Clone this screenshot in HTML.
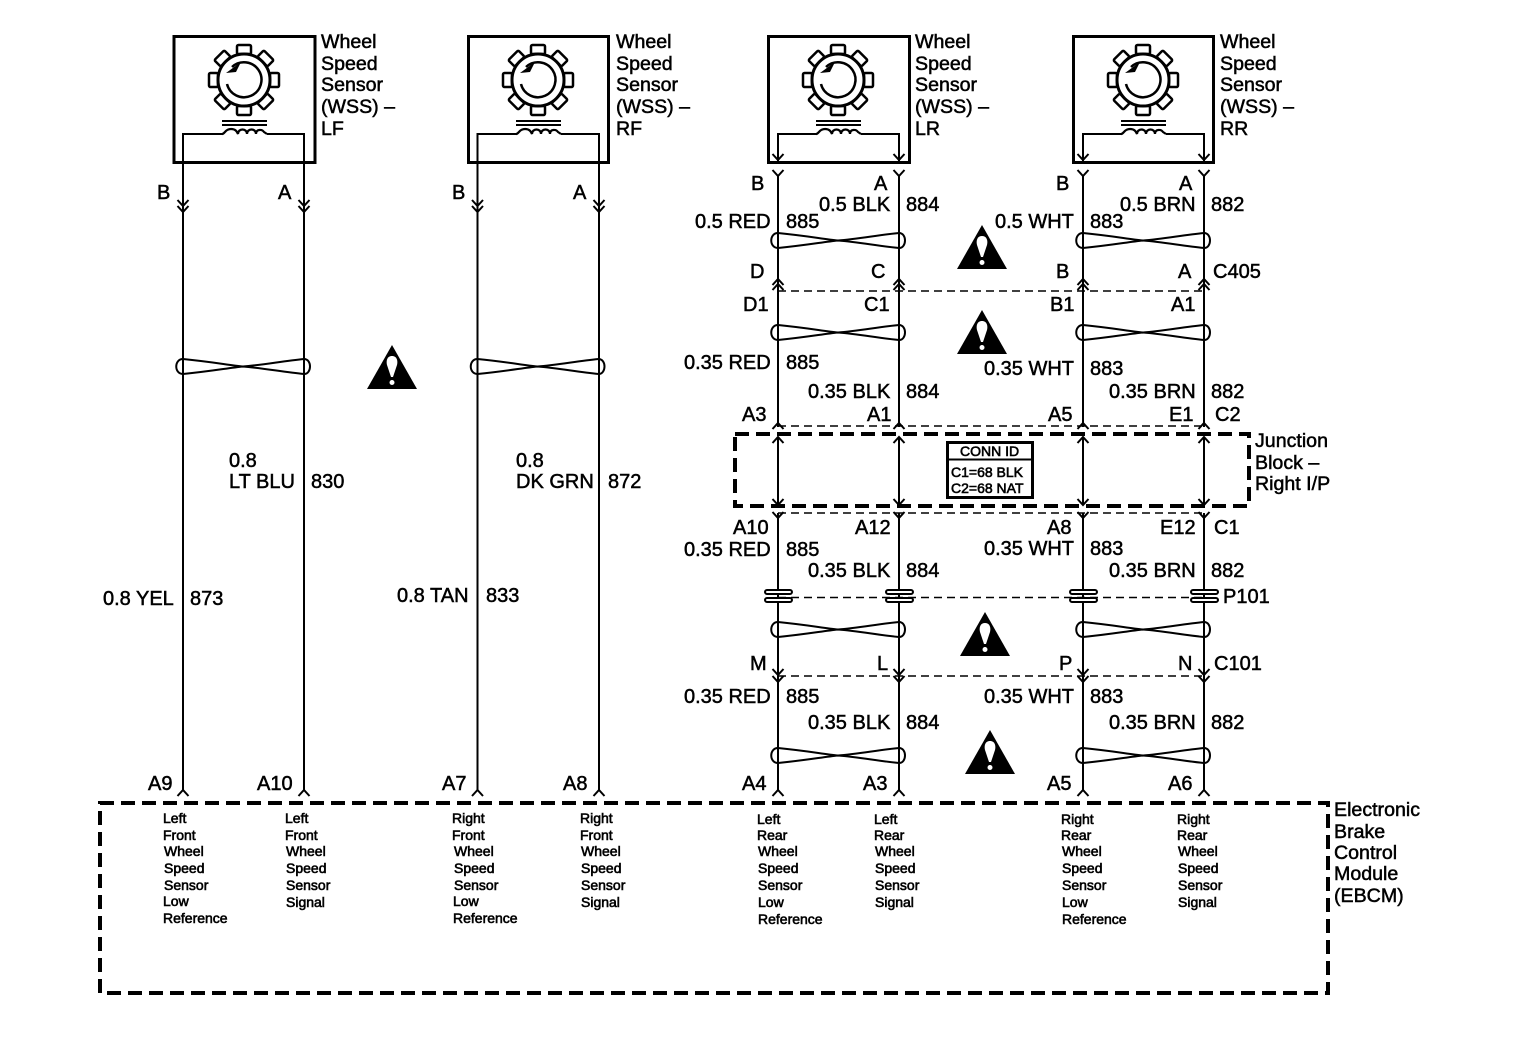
<!DOCTYPE html>
<html><head><meta charset="utf-8"><style>
html,body{margin:0;padding:0;background:#fff}
svg{display:block}
text{font-family:"Liberation Sans",sans-serif;font-size:20px;fill:#000;stroke:#000;stroke-width:.5}
g.w text{font-size:19.6px}
text.s{font-size:14px;stroke-width:.6}
.l{fill:none;stroke:#000;stroke-width:2}
.d{fill:none;stroke:#000;stroke-width:1.6;stroke-dasharray:8 5}
.h{fill:none;stroke:#000;stroke-width:4;stroke-dasharray:14 7}
</style></head><body>
<svg width="1520" height="1054" viewBox="0 0 1520 1054" xmlns="http://www.w3.org/2000/svg">
<defs>
<g id="gear" fill="none" stroke="#000">
<g stroke-width="2.5" fill="#fff">
<rect x="-7" y="-35" width="14" height="9" rx="1.5"/>
<rect x="-7" y="26" width="14" height="9" rx="1.5"/>
<rect x="-35" y="-7" width="9" height="14" rx="1.5"/>
<rect x="26" y="-7" width="9" height="14" rx="1.5"/>
<rect x="-7" y="-35" width="14" height="9" rx="1.5" transform="rotate(45)"/>
<rect x="-7" y="-35" width="14" height="9" rx="1.5" transform="rotate(135)"/>
<rect x="-7" y="-35" width="14" height="9" rx="1.5" transform="rotate(225)"/>
<rect x="-7" y="-35" width="14" height="9" rx="1.5" transform="rotate(315)"/>
</g>
<circle cx="0" cy="0" r="26" stroke-width="3" fill="#fff"/>
<path d="M-12 -13 A17.500 17.500 0 1 1 -17 4" stroke-width="2.5"/>
<path d="M-18 -7 L-3 -18 L-8 -8 Z" fill="#000" stroke="none"/>
</g>
<g id="coil" fill="none" stroke="#000" stroke-width="2">
<path d="M-22 41 H23 M-22 45 H23"/>
<path d="M-22 54 C-19 54 -19 49 -13 49 C-8 49 -7 52 -6 54 C-6 48 3 48 3 54 C3 48 12 48 12 54 C12 49 18 49 20 52 L23 54" stroke-width="2.2"/>
</g>
<path id="twist" fill="none" stroke="#000" stroke-width="2" d="M0 0 C30 3 45 6 60 7.500 C80 9 100 13 121 15 C129 15 129 0 121 0 C100 2 80 6 60 7.500 C45 9 30 12 0 15 C-9 15 -9 0 0 0 Z"/>
<g id="tri"><path d="M26 0 L51 44 H1 Z" fill="#000"/><path d="M26 11 C21 11 20 16 21 20 L25 32 H27 L31 20 C32 16 31 11 26 11 Z" fill="#fff"/><circle cx="26" cy="37.500" r="2.500" fill="#fff"/></g>
<path id="dn" class="l" d="M-5.500 -6 L0 0 L5.500 -6"/>
<path id="up" class="l" d="M-5.500 6 L0 0 L5.500 6"/>
<g id="pin" fill="#fff" stroke="#000" stroke-width="2"><rect x="-13" y="-7" width="27" height="4" rx="2"/><rect x="-13" y="1" width="27" height="4" rx="2"/></g>
</defs>

<!-- sensor boxes -->
<g fill="none" stroke="#000" stroke-width="3">
<rect x="174" y="36.500" width="141" height="126"/>
<rect x="468.500" y="36.500" width="140" height="126"/>
<rect x="768.500" y="36.500" width="141" height="126"/>
<rect x="1073.500" y="36.500" width="140" height="126"/>
</g>
<use href="#gear" x="244" y="80"/><use href="#coil" x="244" y="80"/>
<use href="#gear" x="538" y="80"/><use href="#coil" x="538" y="80"/>
<use href="#gear" x="838" y="80"/><use href="#coil" x="838" y="80"/>
<use href="#gear" x="1143" y="80"/><use href="#coil" x="1143" y="80"/>

<!-- wires in boxes and down -->
<path class="l" d="M183 790 V134 H222 M267 134 H304 V790"/>
<path class="l" d="M477.500 790 V134 H517 M561 134 H599 V790"/>
<path class="l" d="M778 163 V134 H817 M861 134 H899 V163"/>
<path class="l" d="M1083 163 V134 H1122 M1166 134 H1204 V163"/>
<!-- arrows in LR RR boxes -->
<g>
<use href="#dn" x="778" y="160"/><use href="#dn" x="899" y="160"/><use href="#dn" x="1083" y="160"/><use href="#dn" x="1204" y="160"/>
<use href="#dn" x="778" y="176"/><use href="#dn" x="899" y="176"/><use href="#dn" x="1083" y="176"/><use href="#dn" x="1204" y="176"/>
</g>
<path class="l" d="M778 175 V427 M899 175 V427 M1083 175 V427 M1204 175 V427"/>
<path class="l" d="M778 437 V505 M899 437 V505 M1083 437 V505 M1204 437 V505"/>
<path class="l" d="M778 513 V790 M899 513 V790 M1083 513 V790 M1204 513 V790"/>

<!-- LF RF chevrons -->
<use href="#dn" x="183" y="206"/><use href="#dn" x="183" y="212"/>
<use href="#dn" x="304" y="206"/><use href="#dn" x="304" y="212"/>
<use href="#dn" x="477.500" y="206"/><use href="#dn" x="477.500" y="212"/>
<use href="#dn" x="599" y="206"/><use href="#dn" x="599" y="212"/>

<!-- twists -->
<use href="#twist" x="183" y="359"/>
<use href="#twist" x="477.500" y="359"/>
<use href="#twist" x="778" y="233"/><use href="#twist" x="1083" y="233"/>
<use href="#twist" x="778" y="325"/><use href="#twist" x="1083" y="325"/>
<use href="#twist" x="778" y="622"/><use href="#twist" x="1083" y="622"/>
<use href="#twist" x="778" y="748"/><use href="#twist" x="1083" y="748"/>

<!-- C405 -->
<path class="d" d="M778 291 H1204"/>
<g>
<use href="#up" x="778" y="279"/><use href="#up" x="778" y="284"/>
<use href="#up" x="899" y="279"/><use href="#up" x="899" y="284"/>
<use href="#up" x="1083" y="279"/><use href="#up" x="1083" y="284"/>
<use href="#up" x="1204" y="279"/><use href="#up" x="1204" y="284"/>
</g>

<!-- junction -->
<path class="d" d="M778 426 H1204 M778 513 H1204"/>
<use href="#up" x="778" y="423"/><use href="#up" x="899" y="423"/><use href="#up" x="1083" y="423"/><use href="#up" x="1204" y="423"/>
<use href="#up" x="778" y="437"/><use href="#up" x="899" y="437"/><use href="#up" x="1083" y="437"/><use href="#up" x="1204" y="437"/>
<use href="#dn" x="778" y="505"/><use href="#dn" x="899" y="505"/><use href="#dn" x="1083" y="505"/><use href="#dn" x="1204" y="505"/>
<use href="#dn" x="778" y="518"/><use href="#dn" x="899" y="518"/><use href="#dn" x="1083" y="518"/><use href="#dn" x="1204" y="518"/>
<rect class="h" x="735" y="434" width="514" height="72"/>
<rect x="947.500" y="442.500" width="85" height="55" fill="#fff" stroke="#000" stroke-width="3"/>
<path d="M947 459.500 H1032" stroke="#000" stroke-width="2"/>

<!-- P101 -->
<path class="d" d="M778 597.500 H1204"/>
<use href="#pin" x="778" y="597"/><use href="#pin" x="899" y="597"/><use href="#pin" x="1083" y="597"/><use href="#pin" x="1204" y="597"/>

<!-- C101 -->
<path class="d" d="M778 676 H1204"/>
<use href="#dn" x="778" y="675"/><use href="#dn" x="778" y="682"/>
<use href="#dn" x="899" y="675"/><use href="#dn" x="899" y="682"/>
<use href="#dn" x="1083" y="675"/><use href="#dn" x="1083" y="682"/>
<use href="#dn" x="1204" y="675"/><use href="#dn" x="1204" y="682"/>

<!-- EBCM -->
<use href="#up" x="183" y="790"/><use href="#up" x="304" y="790"/><use href="#up" x="477.500" y="790"/><use href="#up" x="599" y="790"/>
<use href="#up" x="778" y="790"/><use href="#up" x="899" y="790"/><use href="#up" x="1083" y="790"/><use href="#up" x="1204" y="790"/>
<rect class="h" x="100" y="803" width="1228" height="190"/>

<!-- warning triangles -->
<use href="#tri" x="366" y="345"/>
<use href="#tri" x="956" y="225"/>
<use href="#tri" x="956" y="310"/>
<use href="#tri" x="959" y="612"/>
<use href="#tri" x="964" y="730"/>

<!-- sensor labels -->
<g class="w">
<text x="321" y="48">Wheel</text><text x="321" y="70">Speed</text><text x="321" y="91">Sensor</text><text x="321" y="113">(WSS) –</text><text x="321" y="135">LF</text>
<text x="616" y="48">Wheel</text><text x="616" y="70">Speed</text><text x="616" y="91">Sensor</text><text x="616" y="113">(WSS) –</text><text x="616" y="135">RF</text>
<text x="915" y="48">Wheel</text><text x="915" y="70">Speed</text><text x="915" y="91">Sensor</text><text x="915" y="113">(WSS) –</text><text x="915" y="135">LR</text>
<text x="1220" y="48">Wheel</text><text x="1220" y="70">Speed</text><text x="1220" y="91">Sensor</text><text x="1220" y="113">(WSS) –</text><text x="1220" y="135">RR</text>
</g>

<text x="157" y="199">B</text><text x="278" y="199">A</text><text x="452" y="199">B</text><text x="573" y="199">A</text>
<text x="751" y="190">B</text><text x="874" y="190">A</text><text x="1056" y="190">B</text><text x="1179" y="190">A</text>

<text x="695" y="228">0.5 RED</text><text x="786" y="228">885</text><text x="819" y="211">0.5 BLK</text><text x="906" y="211">884</text>
<text x="995" y="228">0.5 WHT</text><text x="1090" y="228">883</text><text x="1120" y="211">0.5 BRN</text><text x="1211" y="211">882</text>

<text x="750" y="278">D</text><text x="871" y="278">C</text><text x="1056" y="278">B</text><text x="1178" y="278">A</text><text x="1213" y="278">C405</text>
<text x="743" y="311">D1</text><text x="864" y="311">C1</text><text x="1050" y="311">B1</text><text x="1171" y="311">A1</text>

<text x="684" y="369">0.35 RED</text><text x="786" y="369">885</text><text x="984" y="375">0.35 WHT</text><text x="1090" y="375">883</text>
<text x="808" y="398">0.35 BLK</text><text x="906" y="398">884</text><text x="1109" y="398">0.35 BRN</text><text x="1211" y="398">882</text>

<text x="742" y="421">A3</text><text x="867" y="421">A1</text><text x="1048" y="421">A5</text><text x="1169" y="421">E1</text><text x="1215" y="421">C2</text>
<g class="w"><text x="1255" y="447">Junction</text><text x="1255" y="469">Block –</text><text x="1255" y="490">Right I/P</text></g>
<text class="s" x="960" y="456">CONN ID</text><text class="s" x="951" y="477">C1=68 BLK</text><text class="s" x="951" y="493">C2=68 NAT</text>

<text x="733" y="534">A10</text><text x="855" y="534">A12</text><text x="1047" y="534">A8</text><text x="1160" y="534">E12</text><text x="1214" y="534">C1</text>
<text x="684" y="556">0.35 RED</text><text x="786" y="556">885</text><text x="984" y="555">0.35 WHT</text><text x="1090" y="555">883</text>
<text x="808" y="577">0.35 BLK</text><text x="906" y="577">884</text><text x="1109" y="577">0.35 BRN</text><text x="1211" y="577">882</text>
<text x="1223" y="603">P101</text>

<text x="750" y="670">M</text><text x="877" y="670">L</text><text x="1059" y="670">P</text><text x="1178" y="670">N</text><text x="1214" y="670">C101</text>
<text x="684" y="703">0.35 RED</text><text x="786" y="703">885</text><text x="984" y="703">0.35 WHT</text><text x="1090" y="703">883</text>
<text x="808" y="729">0.35 BLK</text><text x="906" y="729">884</text><text x="1109" y="729">0.35 BRN</text><text x="1211" y="729">882</text>

<text x="148" y="790">A9</text><text x="257" y="790">A10</text><text x="442" y="790">A7</text><text x="563" y="790">A8</text>
<text x="742" y="790">A4</text><text x="863" y="790">A3</text><text x="1047" y="790">A5</text><text x="1168" y="790">A6</text>

<text x="229" y="467">0.8</text><text x="229" y="488">LT BLU</text><text x="311" y="488">830</text>
<text x="516" y="467">0.8</text><text x="516" y="488">DK GRN</text><text x="608" y="488">872</text>
<text x="103" y="605">0.8 YEL</text><text x="190" y="605">873</text>
<text x="397" y="602">0.8 TAN</text><text x="486" y="602">833</text>

<g class="w"><text x="1334" y="816">Electronic</text><text x="1334" y="838">Brake</text><text x="1334" y="859">Control</text><text x="1334" y="880">Module</text><text x="1334" y="902">(EBCM)</text></g>

<!-- EBCM pin labels -->
<g class="pins">
<text class="s" x="163" y="823">Left</text><text class="s" x="163" y="840">Front</text><text class="s" x="164" y="856">Wheel</text><text class="s" x="164" y="873">Speed</text><text class="s" x="164" y="890">Sensor</text><text class="s" x="163" y="906">Low</text><text class="s" x="163" y="923">Reference</text>
<text class="s" x="285" y="823">Left</text><text class="s" x="285" y="840">Front</text><text class="s" x="286" y="856">Wheel</text><text class="s" x="286" y="873">Speed</text><text class="s" x="286" y="890">Sensor</text><text class="s" x="286" y="907">Signal</text>
<text class="s" x="452" y="823">Right</text><text class="s" x="452" y="840">Front</text><text class="s" x="454" y="856">Wheel</text><text class="s" x="454" y="873">Speed</text><text class="s" x="454" y="890">Sensor</text><text class="s" x="453" y="906">Low</text><text class="s" x="453" y="923">Reference</text>
<text class="s" x="580" y="823">Right</text><text class="s" x="580" y="840">Front</text><text class="s" x="581" y="856">Wheel</text><text class="s" x="581" y="873">Speed</text><text class="s" x="581" y="890">Sensor</text><text class="s" x="581" y="907">Signal</text>
<text class="s" x="757" y="824">Left</text><text class="s" x="757" y="840">Rear</text><text class="s" x="758" y="856">Wheel</text><text class="s" x="758" y="873">Speed</text><text class="s" x="758" y="890">Sensor</text><text class="s" x="758" y="907">Low</text><text class="s" x="758" y="924">Reference</text>
<text class="s" x="874" y="824">Left</text><text class="s" x="874" y="840">Rear</text><text class="s" x="875" y="856">Wheel</text><text class="s" x="875" y="873">Speed</text><text class="s" x="875" y="890">Sensor</text><text class="s" x="875" y="907">Signal</text>
<text class="s" x="1061" y="824">Right</text><text class="s" x="1061" y="840">Rear</text><text class="s" x="1062" y="856">Wheel</text><text class="s" x="1062" y="873">Speed</text><text class="s" x="1062" y="890">Sensor</text><text class="s" x="1062" y="907">Low</text><text class="s" x="1062" y="924">Reference</text>
<text class="s" x="1177" y="824">Right</text><text class="s" x="1177" y="840">Rear</text><text class="s" x="1178" y="856">Wheel</text><text class="s" x="1178" y="873">Speed</text><text class="s" x="1178" y="890">Sensor</text><text class="s" x="1178" y="907">Signal</text>
</g>
</svg>
</body></html>
